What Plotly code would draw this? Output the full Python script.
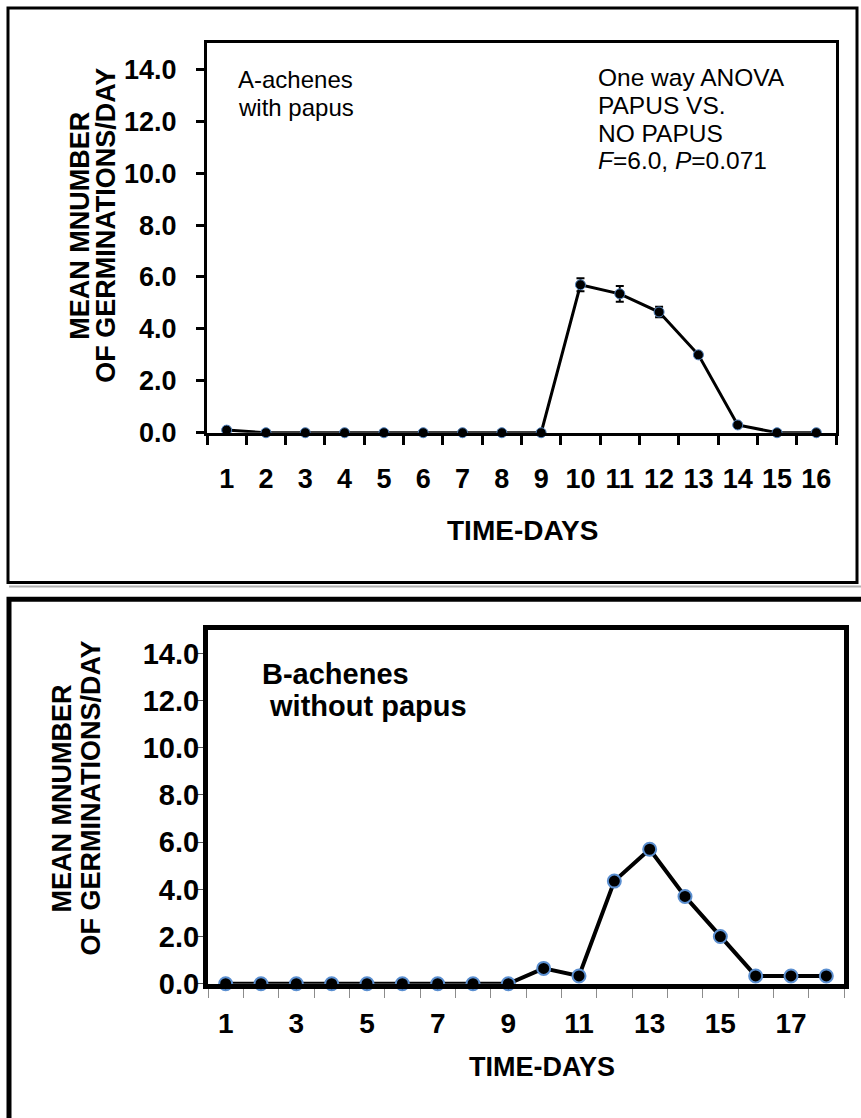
import plotly.graph_objects as go

# ---------------- data ----------------
days_a = list(range(1, 17))
germ_a = [0.1, 0, 0, 0, 0, 0, 0, 0, 0, 5.7, 5.35, 4.65, 3.0, 0.3, 0, 0]
err_a = [0, 0, 0, 0, 0, 0, 0, 0, 0, 0.25, 0.3, 0.2, 0, 0, 0, 0]

days_b = list(range(1, 19))
germ_b = [0, 0, 0, 0, 0, 0, 0, 0, 0, 0.65, 0.33, 4.35, 5.7, 3.7, 2.0, 0.33, 0.33, 0.33]

y_ticks = [0, 2, 4, 6, 8, 10, 12, 14]
y_ticklabels = ["0.0", "2.0", "4.0", "6.0", "8.0", "10.0", "12.0", "14.0"]
x_ticks_a = days_a
x_ticks_b = [1, 3, 5, 7, 9, 11, 13, 15, 17]

y_title_1 = "MEAN MNUMBER"
y_title_2 = "OF GERMINATIONS/DAY"
x_title = "TIME-DAYS"
anova_lines = ["One way ANOVA", "PAPUS VS.", "NO PAPUS", "<i>F</i>=6.0, <i>P</i>=0.071"]

W, H = 861, 1118


def X(p):
    return p / W


def Y(p):
    return 1 - p / H


FONT = "Arial, Liberation Sans, sans-serif"

fig = go.Figure()

fig.add_trace(go.Scatter(
    x=days_a, y=germ_a, mode="lines+markers",
    line=dict(color="black", width=3),
    marker=dict(size=10, color="black", line=dict(color="#4f81bd", width=1)),
    error_y=dict(type="data", array=err_a, visible=True, color="black", thickness=2, width=4),
    cliponaxis=False, xaxis="x", yaxis="y", showlegend=False,
))

fig.add_trace(go.Scatter(
    x=days_b, y=germ_b, mode="lines+markers",
    line=dict(color="black", width=4),
    marker=dict(size=13, color="black", line=dict(color="#5b8fd0", width=2)),
    cliponaxis=False, xaxis="x2", yaxis="y2", showlegend=False,
))

fig.update_layout(
    width=W, height=H,
    margin=dict(l=0, r=0, t=0, b=0),
    paper_bgcolor="white", plot_bgcolor="white",
    font=dict(family=FONT, color="black"),
    xaxis=dict(
        domain=[X(207), X(836)], range=[0.5, 16.5], anchor="y",
        tickmode="array", tickvals=x_ticks_a, ticks="",
        minor=dict(tickmode="array", tickvals=[d - 0.5 for d in days_a] + [days_a[-1] + 0.5],
                   ticks="outside", ticklen=9, tickwidth=3, tickcolor="black", showgrid=False),
        showline=True, linewidth=3, linecolor="black", mirror=True,
        showgrid=False, zeroline=False,
        tickfont=dict(size=27, family=FONT, weight="bold"), ticklabelstandoff=20,
    ),
    yaxis=dict(
        domain=[Y(439), Y(44)], range=[0, 15], anchor="x",
        tickmode="array", tickvals=y_ticks, ticktext=y_ticklabels,
        ticks="outside", ticklen=8, tickwidth=3, tickcolor="black",
        showline=True, linewidth=3, linecolor="black", mirror=True,
        showgrid=False, zeroline=False,
        tickfont=dict(size=27, family=FONT, weight="bold"), ticklabelstandoff=14,
    ),
    xaxis2=dict(
        domain=[X(208), X(844)], range=[0.5, 18.5], anchor="y2",
        tickmode="array", tickvals=x_ticks_b, ticks="",
        minor=dict(tickmode="array", tickvals=[d - 0.5 for d in days_b] + [days_b[-1] + 0.5],
                   ticks="outside", ticklen=9, tickwidth=1, tickcolor="#8c8c8c", showgrid=False),
        showline=True, linewidth=5, linecolor="black", mirror=True,
        showgrid=False, zeroline=False,
        tickfont=dict(size=28, family=FONT, weight="bold"), ticklabelstandoff=11,
    ),
    yaxis2=dict(
        domain=[Y(998), Y(639)], range=[0, 15], anchor="x2",
        tickmode="array", tickvals=y_ticks, ticktext=y_ticklabels,
        ticks="outside", ticklen=6, tickwidth=1, tickcolor="#555555",
        showline=True, linewidth=5, linecolor="black", mirror=True,
        showgrid=False, zeroline=False,
        tickfont=dict(size=29, family=FONT, weight="bold"), ticklabelstandoff=-8,
    ),
)

# outer panel frames
fig.add_shape(type="rect", xref="paper", yref="paper",
              x0=X(8), x1=X(857), y0=Y(591), y1=Y(8),
              line=dict(color="black", width=3), layer="below")
fig.add_shape(type="line", xref="paper", yref="paper",
              x0=X(9), x1=X(861), y0=Y(595), y1=Y(595),
              line=dict(color="#b0b0b0", width=2))
fig.add_shape(type="rect", xref="paper", yref="paper",
              x0=X(9), x1=X(880), y0=Y(1140), y1=Y(608),
              line=dict(color="black", width=5), layer="below")

ann = []


def add_text(text, x, y, size, bold=False, xanchor="left", angle=0, yanchor="middle"):
    ann.append(dict(text=text, x=X(x), y=Y(y), xref="paper", yref="paper",
                    xanchor=xanchor, yanchor=yanchor, showarrow=False, textangle=angle,
                    align="left",
                    font=dict(size=size, family=FONT, color="black",
                              weight="bold" if bold else "normal")))


# top panel texts
add_text(y_title_1, 80, 229, 27, bold=True, xanchor="center", angle=-90)
add_text(y_title_2, 106, 229, 27, bold=True, xanchor="center", angle=-90)
add_text(x_title, 522, 538, 28, bold=True, xanchor="center")
add_text("A-achenes", 236, 81, 24)
add_text("with papus", 236, 109, 24)
# ANOVA block, one line per annotation
for i, line in enumerate(anova_lines):
    add_text(line, 596, 79 + 28 * i, 24.5)

# bottom panel texts
add_text(y_title_1, 62, 810, 27, bold=True, xanchor="center", angle=-90)
add_text(y_title_2, 91, 810, 27, bold=True, xanchor="center", angle=-90)
add_text(x_title, 542, 1082, 27, bold=True, xanchor="center")
add_text("B-achenes", 260, 684, 29, bold=True)
add_text(" without papus", 260, 716, 29, bold=True)

fig.update_layout(annotations=ann)

fig.write_html(
    "out.html",
    config={"displayModeBar": False},
    post_script="document.body.style.margin='0';document.body.style.overflow='hidden';",
)
